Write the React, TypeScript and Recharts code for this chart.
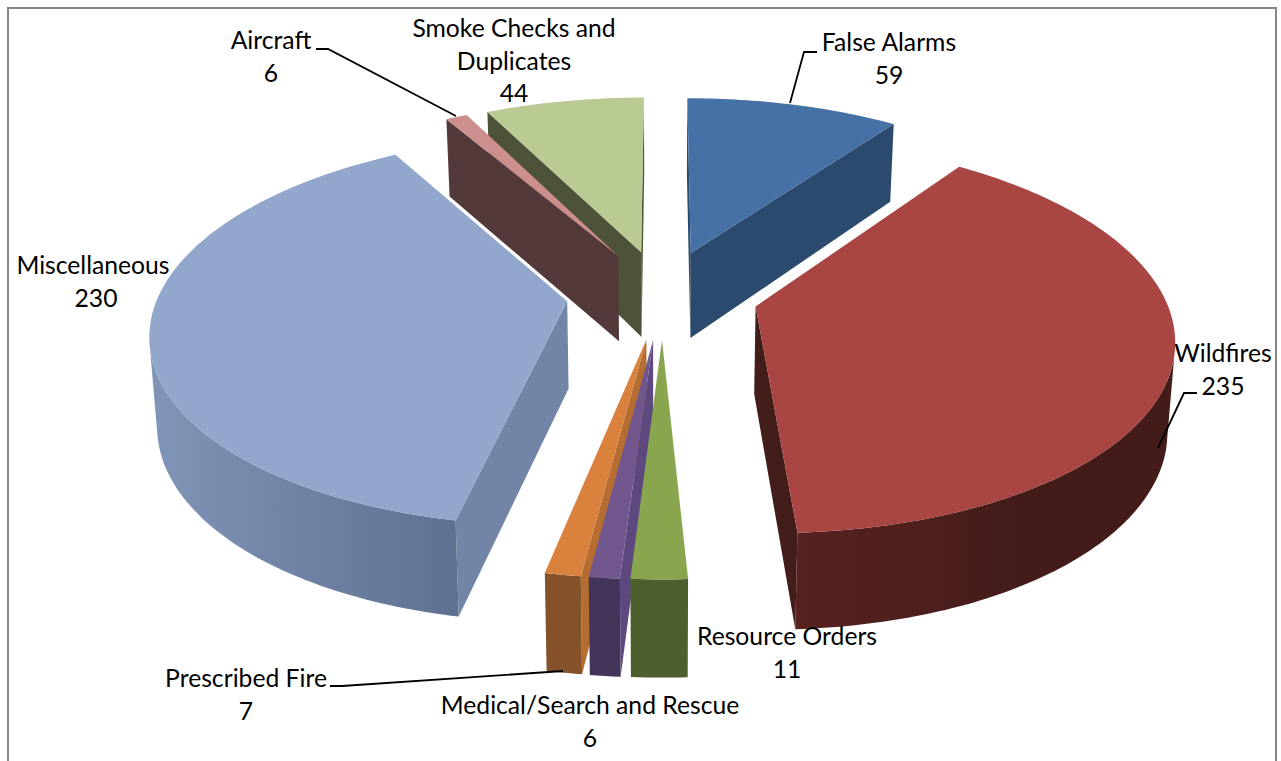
import { Pie, PieChart } from "recharts";

// sectors are painted in this order, so the pie runs counter-clockwise from 12 o'clock
const names = [
  "Smoke Checks and Duplicates",
  "Aircraft",
  "Miscellaneous",
  "Prescribed Fire",
  "Medical/Search and Rescue",
  "Resource Orders",
  "Wildfires",
  "False Alarms",
];
const counts = [44, 6, 230, 7, 6, 11, 235, 59];

const topColors = ["#B9CB92", "#CC8F8E", "#93A7CD", "#D9813D", "#72578F", "#89A54E", "#A94543", "#4571A7"];
const sideColors = ["#4D5339", "#53393A", "#7385A6", "#B66D31", "#5D4880", "#4D5F2C", "#431D19", "#2C4A6E"];
const wallFrom = ["#4D5339", "#53393A", "#8195B8", "#85522A", "#43345A", "#4D5F2C", "#572220", "#2C4A6E"];
const wallTo = ["#4D5339", "#53393A", "#5F7090", "#85522A", "#43345A", "#4D5F2C", "#431C19", "#2C4A6E"];
const wallEnd = ["100%", "100%", "100%", "100%", "100%", "100%", "60%", "100%"];

const labelLines: Record<string, string[]> = {
  "Smoke Checks and Duplicates": ["Smoke Checks and", "Duplicates"],
  "Medical/Search and Rescue": ["Medical/Search and Rescue"],
};
// centre of the text block's first line
const labelAt: Record<string, [number, number]> = {
  "Smoke Checks and Duplicates": [514, 28],
  "False Alarms": [889, 42],
  Wildfires: [1223, 353],
  "Resource Orders": [787, 636],
  "Medical/Search and Rescue": [590, 705],
  "Prescribed Fire": [246, 678],
  Miscellaneous: [93, 265],
  Aircraft: [271, 40],
};
const leaders: Record<string, string> = {
  "False Alarms": "790,103 804,52 817,52",
  Wildfires: "1158,448 1184,393 1197,393",
  "Prescribed Fire": "330,686 342,686 563,671",
  Aircraft: "316,49 328,49 456,116",
};

const rows = names.map((name, i) => ({ name, value: counts[i], index: i }));

// camera: ground units are pie radii, v grows towards the viewer
const EXPLODE = 0.235;
const DIST = 6.76;
const FX = 2762;
const FY = 1277;

type Pt = [number, number];

function SliceShape(props: any) {
  const { cx, cy, startAngle, endAngle } = props;
  const i = props.index ?? props.payload?.index ?? 0;
  const rad = Math.PI / 180;
  const mid = ((startAngle + endAngle) / 2) * rad;
  const ox = EXPLODE * Math.cos(mid);
  const oy = -EXPLODE * Math.sin(mid);

  const top = (u: number, v: number): Pt => {
    const k = DIST - v;
    return [cx + (u * FX) / k, cy + (v * FY) / k];
  };
  const ground = (r: number, deg: number): Pt => [
    ox + r * Math.cos(deg * rad),
    oy - r * Math.sin(deg * rad),
  ];
  const down = (u: number, v: number): Pt => {
    const [x, y] = top(u, v);
    return [cx + (x - cx) * 0.985, y + 87 + 9 * v];
  };

  const steps = Math.max(4, Math.ceil(Math.abs(endAngle - startAngle)));
  const arc: Pt[] = [];
  for (let s = 0; s <= steps; s++) {
    arc.push(ground(1, startAngle + ((endAngle - startAngle) * s) / steps));
  }
  const apex: Pt = [ox, oy];
  const inside = top(...ground(0.6, (startAngle + endAngle) / 2));

  // a wall hangs below its top edge, it shows when the top face lies on the other side
  const shows = (a: Pt, b: Pt) => {
    const dx = b[0] - a[0];
    const dy = b[1] - a[1];
    return dx * (inside[1] - a[1]) - dy * (inside[0] - a[0]) < 0 === dx > 0 && Math.abs(dx) > 0.5;
  };
  const poly = (pts: Pt[]) => pts.map((p) => `${p[0].toFixed(1)},${p[1].toFixed(1)}`).join(" ");

  const walls: Pt[][] = [];
  let run: Pt[] = [];
  const flush = () => {
    if (run.length > 1) {
      walls.push([...run.map((p) => top(...p)), ...[...run].reverse().map((p) => down(...p))]);
    }
    run = [];
  };
  for (let s = 0; s < arc.length - 1; s++) {
    if (shows(top(...arc[s]), top(...arc[s + 1]))) {
      if (!run.length) run.push(arc[s]);
      run.push(arc[s + 1]);
    } else flush();
  }
  flush();

  const sides = [arc[0], arc[arc.length - 1]].filter((e) => shows(top(...apex), top(...e)));
  const gradId = `wall-${i}`;

  return (
    <g>
      <defs>
        <linearGradient id={gradId} x1="0" y1="0" x2="1" y2="0">
          <stop offset="0%" stopColor={wallFrom[i]} />
          <stop offset={wallEnd[i]} stopColor={wallTo[i]} />
        </linearGradient>
      </defs>
      {sides.map((e, n) => (
        <polygon
          key={n}
          points={poly([top(...apex), top(...e), down(...e), down(...apex)])}
          fill={sideColors[i]}
        />
      ))}
      {walls.map((w, n) => (
        <polygon key={n} points={poly(w)} fill={`url(#${gradId})`} />
      ))}
      <polygon points={poly([top(...apex), ...arc.map((p) => top(...p))])} fill={topColors[i]} />
    </g>
  );
}

function SliceLabel(props: any) {
  const { name, value } = props;
  const [x, y] = labelAt[name];
  const lines = [...(labelLines[name] ?? [name]), String(value)];
  return (
    <g>
      {leaders[name] && <polyline points={leaders[name]} fill="none" stroke="#000" strokeWidth={1.8} />}
      {lines.map((line, n) => (
        <text
          key={n}
          x={name === "Miscellaneous" && n === 1 ? x + 3 : x}
          y={y + 9 + n * 32.5}
          textAnchor="middle"
          fontFamily="Lato"
          fontSize={24.7}
          fill="#000"
        >
          {line}
        </text>
      ))}
    </g>
  );
}

export default function App() {
  return (
    <div
      style={{
        position: "absolute",
        left: 0,
        top: 0,
        width: 1281,
        height: 761,
        overflow: "hidden",
        background: "#fff",
      }}
    >
      <div
        style={{
          position: "absolute",
          left: 7,
          top: 7,
          width: 1270,
          height: 760,
          border: "2px solid #868686",
          boxSizing: "border-box",
        }}
      />
      <PieChart
        width={1281}
        height={761}
        margin={{ top: 0, right: 0, bottom: 0, left: 0 }}
        style={{ position: "absolute", left: 0, top: 0 }}
      >
        <Pie
          data={rows}
          dataKey="value"
          nameKey="name"
          cx={662.5}
          cy={294}
          outerRadius={300}
          startAngle={90}
          endAngle={450}
          stroke="none"
          shape={SliceShape}
          activeShape={SliceShape}
          inactiveShape={SliceShape}
          label={SliceLabel}
          labelLine={false}
          isAnimationActive={false}
        />
      </PieChart>
    </div>
  );
}
